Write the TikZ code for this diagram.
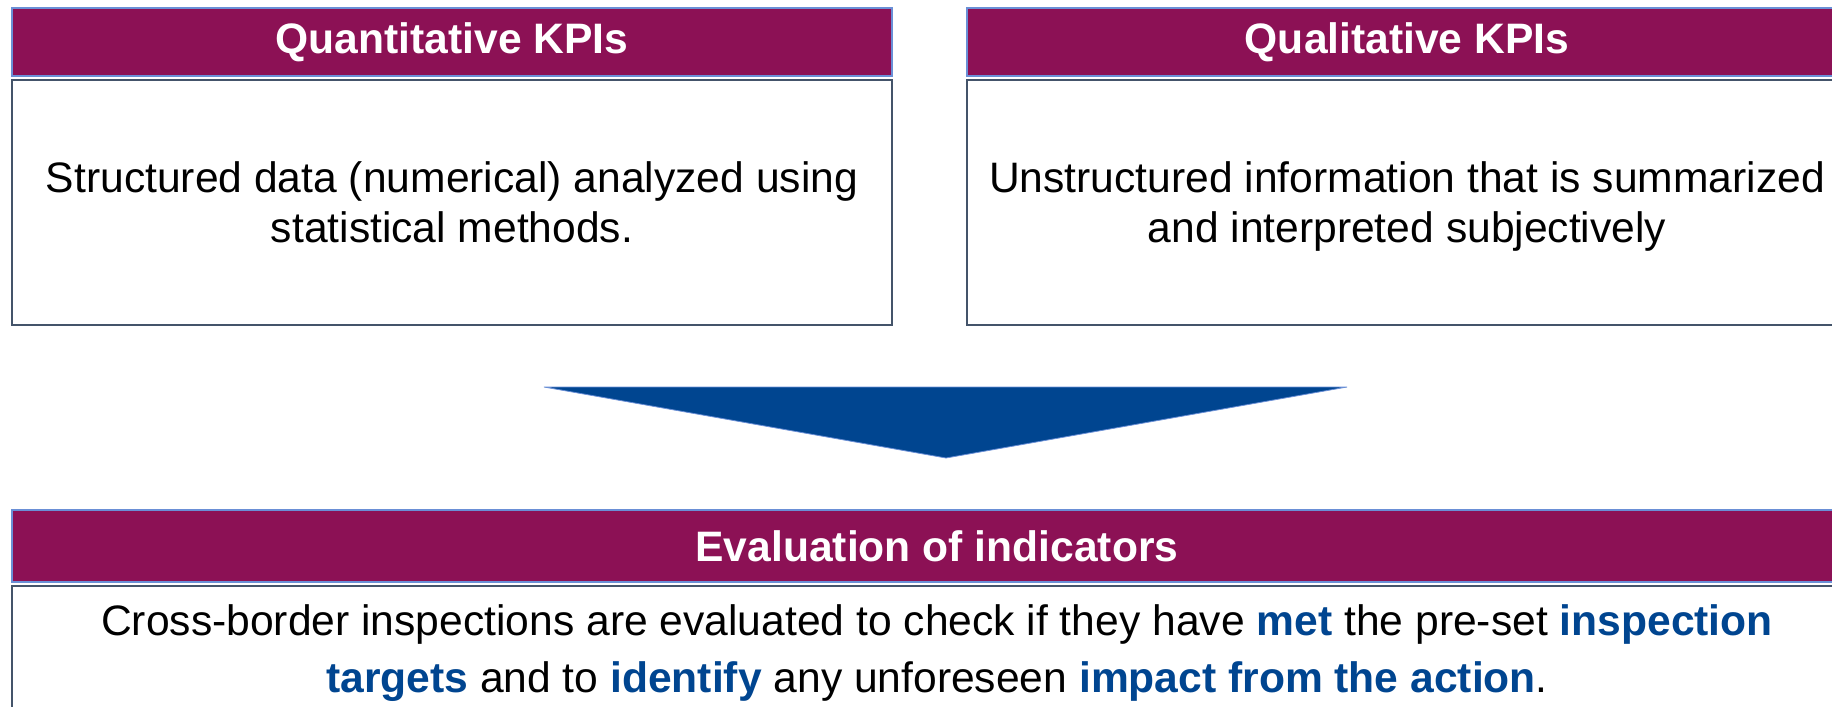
\documentclass[tikz,border=0pt]{standalone}
\usepackage{fontspec}
\setmainfont{Liberation Sans}
\usetikzlibrary{positioning}

\definecolor{headfill}{HTML}{8C1155}
\definecolor{headline}{HTML}{6A8FD6}
\definecolor{boxline}{HTML}{44546A}
\definecolor{kpiblue}{HTML}{004590}

\tikzset{
  kpihead/.style={draw=headline, line width=0.6pt, fill=headfill, text=white,
    font=\fontsize{21.3}{25}\selectfont\bfseries, inner sep=0pt, outer sep=0pt,
    minimum height=34pt},
  kpibox/.style={draw=boxline, line width=0.8pt, fill=white, align=center,
    font=\fontsize{21.3}{25}\selectfont, inner sep=0pt, outer sep=0pt}
}
\newcommand{\hlt}[1]{\textcolor{kpiblue}{\textbf{#1}}}
\newcommand{\nodepth}[1]{\raisebox{0pt}[\height][0pt]{#1}}

\begin{document}
\begin{tikzpicture}[x=0.5pt, y=-0.5pt, node distance=2pt]
  \useasboundingbox (0,0) rectangle (1832,707);

  \node[kpihead, minimum width=440pt] (quant head) at (452,42) {Quantitative KPIs};
  \node[kpibox, minimum width=440pt, minimum height=122.5pt, below=of quant head] (quant box)
    {Structured data (numerical) analyzed using\\statistical methods.};

  \node[kpihead, minimum width=440pt] (qual head) at (1407,42) {Qualitative KPIs};
  \node[kpibox, minimum width=440pt, minimum height=122.5pt, below=of qual head] (qual box)
    {Unstructured information that is summarized\\\nodepth{and interpreted subjectively}};

  % big arrow down
  \filldraw[fill=kpiblue, draw=headline, line width=0.4pt]
    (544,387) -- (1347,387) -- (946,458) -- cycle;

  \node[kpihead, minimum width=925pt, minimum height=36pt] (eval head) at (937,546) {Evaluation of indicators};
  \node[kpibox, minimum width=925pt, minimum height=67pt, below=of eval head,
    font=\fontsize{21.3}{28.5}\selectfont] (eval box)
    {Cross-border inspections are evaluated to check if they have \hlt{met} the pre-set \hlt{inspection}\\
     \hlt{targets} and to \hlt{identify} any unforeseen \hlt{impact from the action}.};

\end{tikzpicture}
\end{document}
